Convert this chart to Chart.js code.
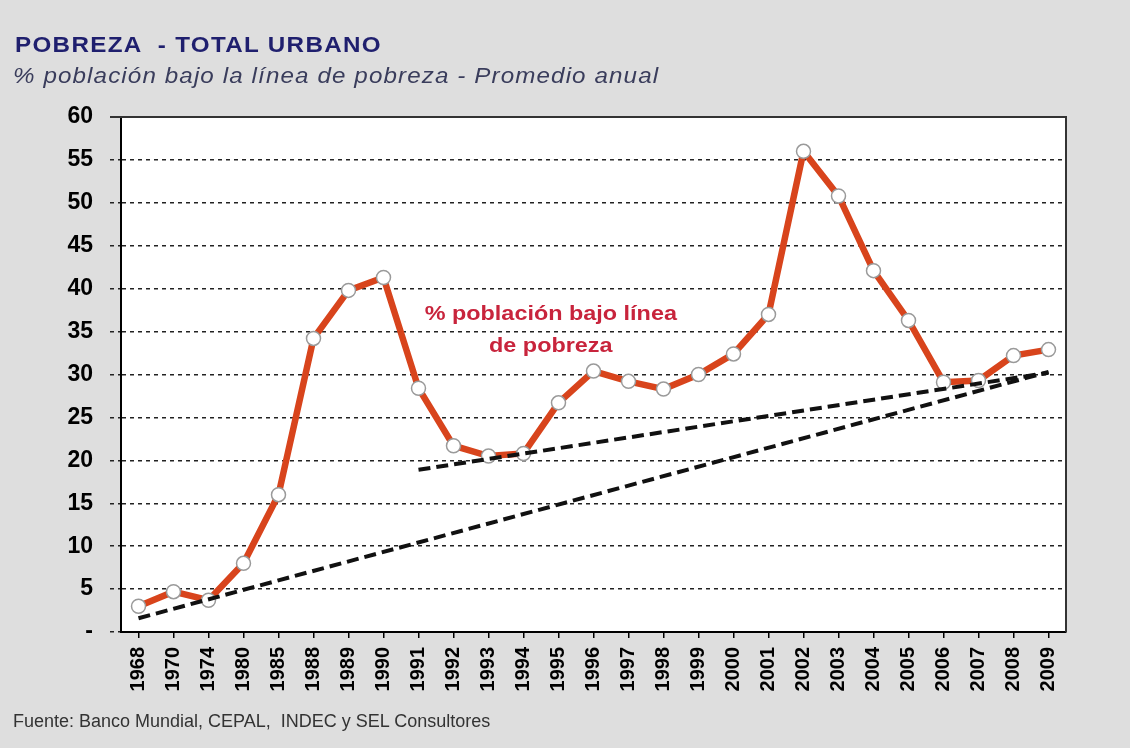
<!DOCTYPE html>
<html>
<head>
<meta charset="utf-8">
<script src="https://cdn.jsdelivr.net/npm/chart.js@4.4.1/dist/chart.umd.min.js"></script>
<style>
    html, body {
        margin: 0;
        padding: 0;
        background: #dedede;
        width: 1130px;
        height: 748px;
        overflow: hidden;
        font-family: Arial, "Liberation Sans", sans-serif;
    }
    #wrap {
        position: relative;
        width: 1130px;
        height: 748px;
    }
    #chart {
        position: absolute;
        left: 0;
        top: 0;
    }
    .title {
        position: absolute;
        left: 15px;
        top: 32px;
        font-size: 22px;
        font-weight: bold;
        color: #1f1f6e;
        letter-spacing: 1.2px;
        white-space: pre;
        transform: scaleX(1.1);
        transform-origin: left top;
    }
    .subtitle {
        position: absolute;
        left: 13px;
        top: 63px;
        font-size: 22px;
        font-style: italic;
        color: #3a3d5c;
        letter-spacing: 1px;
        white-space: pre;
        transform: scaleX(1.1);
        transform-origin: left top;
    }
    .source {
        position: absolute;
        left: 13px;
        top: 711px;
        font-size: 18px;
        color: #333;
        white-space: pre;
    }
</style>
</head>
<body>
<div id="wrap">
    <canvas id="chart" width="1130" height="748"></canvas>
    <div class="title">POBREZA  - TOTAL URBANO</div>
    <div class="subtitle">% población bajo la línea de pobreza - Promedio anual</div>
    <div class="source">Fuente: Banco Mundial, CEPAL,  INDEC y SEL Consultores</div>
</div>
<script>
    const years = ['1968', '1970', '1974', '1980', '1985', '1988', '1989', '1990', '1991', '1992',
        '1993', '1994', '1995', '1996', '1997', '1998', '1999', '2000', '2001', '2002',
        '2003', '2004', '2005', '2006', '2007', '2008', '2009'];

    const poverty = [3.0, 4.7, 3.7, 8.0, 16.0, 34.2, 39.8, 41.3, 28.4, 21.7,
        20.5, 20.8, 26.7, 30.4, 29.2, 28.3, 30.0, 32.4, 37.0, 56.0,
        50.8, 42.1, 36.3, 29.1, 29.3, 32.2, 32.9];

    // tendencias: solo extremos, el resto se une con spanGaps
    const trendLong = [1.6, null, null, null, null, null, null, null, null, null,
        null, null, null, null, null, null, null, null, null, null,
        null, null, null, null, null, null, 30.3];

    const trendShort = [null, null, null, null, null, null, null, null, 18.9, null,
        null, null, null, null, null, null, null, null, null, null,
        null, null, null, null, null, null, 30.2];

    const yTicks = [0, 5, 10, 15, 20, 25, 30, 35, 40, 45, 50, 55, 60];

    const noteLines = ['% población bajo línea', 'de pobreza'];
    const noteX = 11.78;
    const noteY = [37.0, 33.3];

    const frameAndNote = {
        id: 'frameAndNote',
        beforeDraw(chart) {
            const ctx = chart.ctx;
            const a = chart.chartArea;
            ctx.save();
            ctx.fillStyle = '#ffffff';
            ctx.fillRect(a.left, a.top, a.right - a.left, a.bottom - a.top);
            ctx.restore();
        },
        afterDraw(chart) {
            const ctx = chart.ctx;
            const a = chart.chartArea;
            ctx.save();
            ctx.strokeStyle = '#333';
            ctx.lineWidth = 2;
            ctx.beginPath();
            ctx.moveTo(a.left - 11, a.top);
            ctx.lineTo(a.right, a.top);
            ctx.lineTo(a.right, a.bottom);
            ctx.stroke();
            ctx.restore();
        },
        afterDatasetsDraw(chart) {
            const ctx = chart.ctx;
            const x = chart.scales.x.getPixelForValue(noteX);
            ctx.save();
            ctx.fillStyle = '#c8243c';
            ctx.font = 'bold 20px Arial, "Liberation Sans", sans-serif';
            ctx.textAlign = 'center';
            ctx.textBaseline = 'middle';
            noteLines.forEach((line, i) => {
                ctx.save();
                ctx.translate(x, chart.scales.y.getPixelForValue(noteY[i]));
                ctx.scale(1.17, 1);
                ctx.fillText(line, 0, 0);
                ctx.restore();
            });
            ctx.restore();
        }
    };

    new Chart(document.getElementById('chart'), {
        type: 'line',
        data: {
            labels: years,
            datasets: [{
                label: 'Tendencia larga',
                data: trendLong,
                spanGaps: true,
                borderColor: '#111',
                borderWidth: 4,
                borderDash: [12, 6],
                pointRadius: 0,
                fill: false
            }, {
                label: 'Tendencia corta',
                data: trendShort,
                spanGaps: true,
                borderColor: '#111',
                borderWidth: 4,
                borderDash: [12, 6],
                pointRadius: 0,
                fill: false
            }, {
                label: '% población bajo línea de pobreza',
                data: poverty,
                borderColor: '#d8441c',
                borderWidth: 6.5,
                pointRadius: 7,
                pointBackgroundColor: '#ffffff',
                pointBorderColor: '#9a9a9a',
                pointBorderWidth: 1.5,
                tension: 0,
                fill: false
            }]
        },
        options: {
            responsive: false,
            animation: false,
            devicePixelRatio: 1,
            layout: {
                padding: { left: 0, top: 117, right: 64, bottom: 46 }
            },
            plugins: {
                legend: { display: false },
                tooltip: { enabled: false }
            },
            scales: {
                x: {
                    offset: true,
                    afterFit(scale) { scale.height = 70; },
                    grid: {
                        drawOnChartArea: false,
                        drawTicks: true,
                        tickLength: 6,
                        color: '#000',
                        lineWidth: 1.5
                    },
                    border: { color: '#000', width: 2 },
                    ticks: {
                        autoSkip: false,
                        maxRotation: 90,
                        minRotation: 90,
                        padding: 9,
                        color: '#000',
                        font: { family: 'Arial, "Liberation Sans", sans-serif', size: 20, weight: 'bold' }
                    }
                },
                y: {
                    min: 0,
                    max: 60,
                    afterFit(scale) { scale.width = 121; },
                    afterBuildTicks(scale) {
                        scale.ticks = yTicks.map(v => ({ value: v }));
                    },
                    grid: {
                        color: '#222',
                        lineWidth: 1.5,
                        tickLength: 11,
                        tickBorderDash: [4, 4]
                    },
                    border: { color: '#000', width: 2, dash: [4, 4] },
                    ticks: {
                        padding: 17,
                        color: '#000',
                        font: { family: 'Arial, "Liberation Sans", sans-serif', size: 23, weight: 'bold' },
                        callback: v => v === 0 ? '-' : v
                    }
                }
            }
        },
        plugins: [frameAndNote]
    });
</script>
</body>
</html>
